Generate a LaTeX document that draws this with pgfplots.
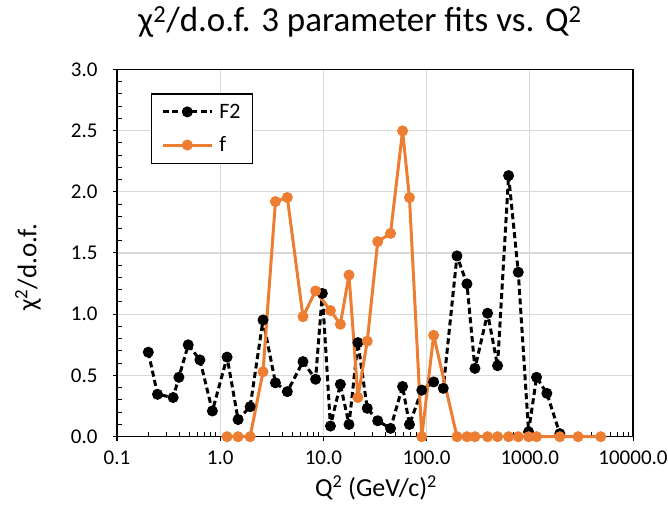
\documentclass[border=0pt]{standalone}
\usepackage{pgfplots}
\pgfplotsset{compat=1.18}
\usepackage{fontspec}
\setmainfont{Carlito}
\definecolor{forange}{HTML}{ED7D31}
\definecolor{gridgray}{HTML}{D9D9D9}
\begin{document}
\begin{tikzpicture}[x=1pt,y=1pt]
\useasboundingbox (0,0) rectangle (668,519);
\begin{axis}[
  at={(117pt,82.3pt)}, anchor=south west,
  scale only axis, width=516pt, height=367.4pt,
  xmode=log, xmin=0.1, xmax=10000, ymin=0, ymax=3,
  xtick={0.1,1,10,100,1000,10000},
  xticklabels={0.1,1.0,10.0,100.0,1000.0,10000.0},
  minor xtick={0.2,0.3,0.4,0.5,0.6,0.7,0.8,0.9,2,3,4,5,6,7,8,9,20,30,40,50,60,70,80,90,200,300,400,500,600,700,800,900,2000,3000,4000,5000,6000,7000,8000,9000},
  ytick={0,0.5,1,1.5,2,2.5,3},
  yticklabels={0.0,0.5,1.0,1.5,2.0,2.5,3.0},
  minor y tick num=4,
  xtick pos=bottom, ytick pos=left,
  tick align=inside,
  major tick length=0pt, minor tick length=5pt,
  extra x ticks={0.1,1,10,100,1000,10000}, extra x tick labels={},
  extra y ticks={0,0.5,1,1.5,2,2.5,3}, extra y tick labels={},
  extra tick style={tick align=outside, major tick length=4pt, grid=none},
  every tick/.style={black, line width=1pt},
  grid=major,
  major grid style={gridgray, line width=1.2pt},
  axis line style={black, line width=1.4pt},
  ticklabel style={font=\fontsize{21}{25}\selectfont, text=black},
  xticklabel style={yshift=-11pt},
  yticklabel style={xshift=-16pt},
  legend style={at={(0.0652,0.9347)}, anchor=north west, draw=black, line width=1.4pt,
    font=\fontsize{22}{26}\selectfont, inner xsep=10pt, inner ysep=8pt,
    row sep=13pt, column sep=4pt, fill=white},
  legend cell align=left,
  legend image code/.code={\draw[mark repeat=2,mark phase=2,#1] plot coordinates {(0pt,0pt) (24.5pt,0pt) (49pt,0pt)};},
  clip=false,
]
\addplot[black, line width=3pt, dash pattern=on 6pt off 3.5pt, line join=round, mark=*, mark size=5pt,
  mark options={solid, fill=black, line width=1pt}] coordinates {
(0.201,0.69) (0.247,0.346) (0.35,0.32) (0.398,0.485) (0.49,0.75) (0.636,0.627)
(0.84,0.21) (1.166,0.65) (1.49,0.14) (1.95,0.245) (2.6,0.953) (3.43,0.44)
(4.47,0.368) (6.34,0.613) (8.4,0.469) (9.76,1.17) (11.7,0.087) (14.6,0.428)
(17.7,0.10) (21.6,0.768) (26.6,0.232) (33.6,0.13) (44.7,0.068) (58.5,0.41)
(68.2,0.10) (89.8,0.38) (117,0.447) (145,0.395) (197,1.476) (246,1.248)
(294,0.558) (390,1.008) (487,0.58) (623,2.132) (773,1.343) (973,0.04)
(1162,0.485) (1463,0.354) (1954,0.025)
};
\addlegendentry{F2}
\addplot[forange, line width=3pt, line join=round, mark=*, mark size=5pt,
  mark options={solid, fill=forange, line width=1pt}] coordinates {
(1.166,0) (1.49,0) (1.95,0) (2.6,0.53) (3.43,1.92) (4.47,1.953) (6.34,0.98)
(8.4,1.19) (11.7,1.03) (14.6,0.918) (17.7,1.32) (21.6,0.32) (26.6,0.78)
(33.6,1.593) (44.7,1.66) (58.5,2.497) (68.2,1.953) (89.8,0) (117,0.828)
(197,0) (246,0) (294,0) (390,0) (487,0) (623,0) (773,0) (973,0) (1162,0)
(1954,0) (2938,0) (4864,0)
};
\addlegendentry{f}
\end{axis}
\node[font=\fontsize{35}{41}\selectfont] at (360,497) {χ\textsuperscript{2}/d.o.f. 3 parameter fits vs. Q\textsuperscript{2}};
\node[font=\fontsize{26}{31}\selectfont] at (376,31) {Q\textsuperscript{2} (GeV/c)\textsuperscript{2}};
\node[font=\fontsize{27}{32}\selectfont, rotate=90] at (28,251.5) {χ\textsuperscript{2}/d.o.f.};
\end{tikzpicture}
\end{document}
